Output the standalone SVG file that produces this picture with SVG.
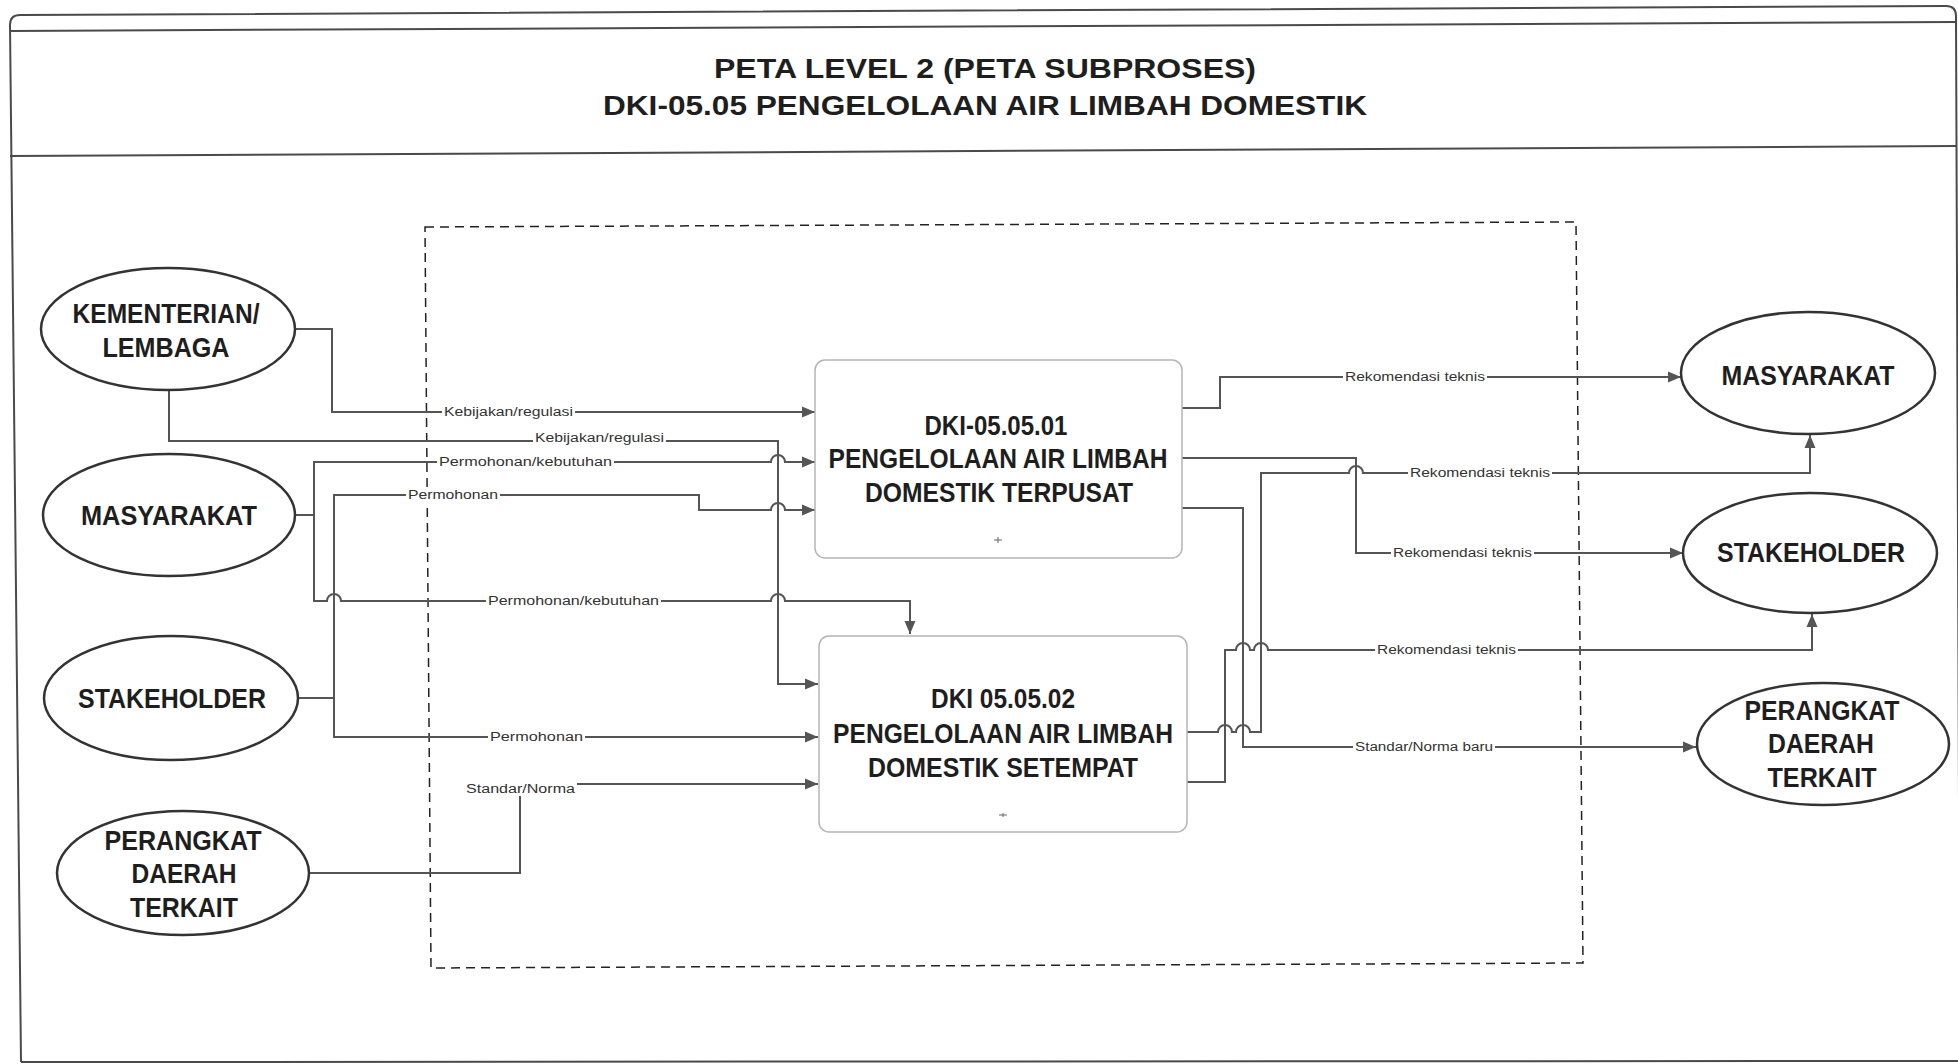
<svg xmlns="http://www.w3.org/2000/svg" width="1958" height="1064" viewBox="0 0 1958 1064">
<style>
.frame{fill:none;stroke:#4a4a4a;stroke-width:2}
.ell{fill:#fff;stroke:#333;stroke-width:2.5}
.box{fill:#fff;stroke:#b5b5b5;stroke-width:1.5}
.et{font-family:"Liberation Sans Narrow","Liberation Sans",Arial,sans-serif;font-weight:bold;font-size:28px;fill:#1e1e1e;text-anchor:middle}
.bt{font-family:"Liberation Sans",Arial,sans-serif;font-weight:bold;font-size:28px;fill:#1e1e1e;text-anchor:middle}
.tt{font-family:"Liberation Sans Narrow","Liberation Sans",Arial,sans-serif;font-weight:bold;font-size:27px;fill:#1e1e1e;text-anchor:middle}
.cn{fill:none;stroke:#555;stroke-width:2}
.lb{font-family:"Liberation Sans",Arial,sans-serif;font-size:12.5px;fill:#333}
.lbg{fill:#fff}
.mk{stroke:#666;stroke-width:1;fill:none}
</style>
<defs>
<marker id="ah" markerUnits="userSpaceOnUse" markerWidth="14" markerHeight="12" refX="13" refY="6" orient="auto">
<path d="M0,0.5 L13,6 L0,11.5 z" fill="#555"/>
</marker>
</defs>
<rect width="1958" height="1064" fill="#fff"/>
<g id="frame">
<path class="frame" d="M21,1062 L10,25 Q10,15 20,15 L1946,6 Q1956,6 1956,16 L1960,1061 L21,1062"/>
<path class="frame" d="M10,31 L1956,22"/>
<path class="frame" d="M10,156 L1956,146"/>
<path fill="none" stroke="#222" stroke-width="1.5" stroke-dasharray="9,6" d="M425,227 L1576,222 L1583,963 L431,968 Z"/>
</g>
<g id="title">
<text class="tt" x="985" y="78" textLength="542" lengthAdjust="spacingAndGlyphs">PETA LEVEL 2 (PETA SUBPROSES)</text>
<text class="tt" x="985" y="115" textLength="764" lengthAdjust="spacingAndGlyphs">DKI-05.05 PENGELOLAAN AIR LIMBAH DOMESTIK</text>
</g>
<g id="connectors">
<path class="cn" marker-end="url(#ah)" d="M295,329 H332 V412 H815"/>
<path class="cn" marker-end="url(#ah)" d="M169,390 V441 H778 V684 H818"/>
<path class="cn" marker-end="url(#ah)" d="M295,515 H314 V462 H771 A7,7 0 0 1 785,462 H815"/>
<path class="cn" marker-end="url(#ah)" d="M314,515 V601 H327 A7,7 0 0 1 341,601 H771 A7,7 0 0 1 785,601 H910 V634"/>
<path class="cn" marker-end="url(#ah)" d="M298,698 H334 V495 H699 V510 H771 A7,7 0 0 1 785,510 H815"/>
<path class="cn" marker-end="url(#ah)" d="M334,698 V737 H818"/>
<path class="cn" marker-end="url(#ah)" d="M309,873 H520 V784 H818"/>
<path class="cn" marker-end="url(#ah)" d="M1182,408 H1220 V377 H1681"/>
<path class="cn" marker-end="url(#ah)" d="M1182,458 H1356 V553 H1683"/>
<path class="cn" marker-end="url(#ah)" d="M1187,732 H1218 A7,7 0 0 1 1232,732 H1236 A7,7 0 0 1 1250,732 H1261 V473 H1349 A7,7 0 0 1 1363,473 H1810 V435"/>
<path class="cn" marker-end="url(#ah)" d="M1187,782 H1225 V650 H1236 A7,7 0 0 1 1250,650 H1254 A7,7 0 0 1 1268,650 H1812 V614"/>
<path class="cn" marker-end="url(#ah)" d="M1182,508 H1243 V747 H1696"/>
<g id="labels">
<rect class="lbg" x="442" y="405" width="133" height="14"/><text class="lb" x="444" y="416" textLength="129" lengthAdjust="spacingAndGlyphs">Kebijakan/regulasi</text>
<rect class="lbg" x="533" y="431" width="133" height="14"/><text class="lb" x="535" y="442" textLength="129" lengthAdjust="spacingAndGlyphs">Kebijakan/regulasi</text>
<rect class="lbg" x="437" y="455" width="177" height="14"/><text class="lb" x="439" y="466" textLength="173" lengthAdjust="spacingAndGlyphs">Permohonan/kebutuhan</text>
<rect class="lbg" x="406" y="488" width="94" height="14"/><text class="lb" x="408" y="499" textLength="90" lengthAdjust="spacingAndGlyphs">Permohonan</text>
<rect class="lbg" x="486" y="594" width="175" height="14"/><text class="lb" x="488" y="605" textLength="171" lengthAdjust="spacingAndGlyphs">Permohonan/kebutuhan</text>
<rect class="lbg" x="488" y="730" width="97" height="14"/><text class="lb" x="490" y="741" textLength="93" lengthAdjust="spacingAndGlyphs">Permohonan</text>
<rect class="lbg" x="464" y="780" width="113" height="16"/><text class="lb" x="466" y="793" textLength="109" lengthAdjust="spacingAndGlyphs">Standar/Norma</text>
<rect class="lbg" x="1343" y="370" width="144" height="14"/><text class="lb" x="1345" y="381" textLength="140" lengthAdjust="spacingAndGlyphs">Rekomendasi teknis</text>
<rect class="lbg" x="1408" y="466" width="144" height="14"/><text class="lb" x="1410" y="477" textLength="140" lengthAdjust="spacingAndGlyphs">Rekomendasi teknis</text>
<rect class="lbg" x="1391" y="546" width="143" height="14"/><text class="lb" x="1393" y="557" textLength="139" lengthAdjust="spacingAndGlyphs">Rekomendasi teknis</text>
<rect class="lbg" x="1375" y="643" width="143" height="14"/><text class="lb" x="1377" y="654" textLength="139" lengthAdjust="spacingAndGlyphs">Rekomendasi teknis</text>
<rect class="lbg" x="1353" y="740" width="142" height="14"/><text class="lb" x="1355" y="751" textLength="138" lengthAdjust="spacingAndGlyphs">Standar/Norma baru</text>
</g>
</g>
<g id="kementerian">
<ellipse class="ell" cx="168" cy="329" rx="127" ry="61"/>
<text class="et" x="166" y="323" textLength="187" lengthAdjust="spacingAndGlyphs">KEMENTERIAN/</text>
<text class="et" x="166" y="357" textLength="127" lengthAdjust="spacingAndGlyphs">LEMBAGA</text>
</g>
<g id="masyarakat-in">
<ellipse class="ell" cx="169" cy="515" rx="126" ry="61"/>
<text class="et" x="169" y="525" textLength="176" lengthAdjust="spacingAndGlyphs">MASYARAKAT</text>
</g>
<g id="stakeholder-in">
<ellipse class="ell" cx="171" cy="698" rx="127" ry="62"/>
<text class="et" x="172" y="708" textLength="188" lengthAdjust="spacingAndGlyphs">STAKEHOLDER</text>
</g>
<g id="perangkat-in">
<ellipse class="ell" cx="183" cy="873" rx="126" ry="62"/>
<text class="et" x="183" y="850" textLength="157" lengthAdjust="spacingAndGlyphs">PERANGKAT</text>
<text class="et" x="184" y="883" textLength="105" lengthAdjust="spacingAndGlyphs">DAERAH</text>
<text class="et" x="184" y="917" textLength="108" lengthAdjust="spacingAndGlyphs">TERKAIT</text>
</g>
<g id="box1">
<rect class="box" x="815" y="360" width="367" height="198" rx="10"/>
<text class="bt" x="996" y="435" textLength="143" lengthAdjust="spacingAndGlyphs">DKI-05.05.01</text>
<text class="bt" x="998" y="468" textLength="339" lengthAdjust="spacingAndGlyphs">PENGELOLAAN AIR LIMBAH</text>
<text class="bt" x="999" y="502" textLength="268" lengthAdjust="spacingAndGlyphs">DOMESTIK TERPUSAT</text>
<path class="mk" d="M994,540 H1002 M998,537 V543"/>
</g>
<g id="box2">
<rect class="box" x="819" y="636" width="368" height="196" rx="10"/>
<text class="bt" x="1003" y="708" textLength="144" lengthAdjust="spacingAndGlyphs">DKI 05.05.02</text>
<text class="bt" x="1003" y="743" textLength="340" lengthAdjust="spacingAndGlyphs">PENGELOLAAN AIR LIMBAH</text>
<text class="bt" x="1003" y="777" textLength="270" lengthAdjust="spacingAndGlyphs">DOMESTIK SETEMPAT</text>
<path class="mk" d="M999,815 H1007 M1003,813 V817"/>
</g>
<g id="masyarakat-out">
<ellipse class="ell" cx="1808" cy="373" rx="127" ry="61"/>
<text class="et" x="1808" y="385" textLength="173" lengthAdjust="spacingAndGlyphs">MASYARAKAT</text>
</g>
<g id="stakeholder-out">
<ellipse class="ell" cx="1810" cy="553" rx="127" ry="60"/>
<text class="et" x="1811" y="562" textLength="188" lengthAdjust="spacingAndGlyphs">STAKEHOLDER</text>
</g>
<g id="perangkat-out">
<ellipse class="ell" cx="1823" cy="744" rx="126" ry="61"/>
<text class="et" x="1822" y="720" textLength="155" lengthAdjust="spacingAndGlyphs">PERANGKAT</text>
<text class="et" x="1821" y="753" textLength="106" lengthAdjust="spacingAndGlyphs">DAERAH</text>
<text class="et" x="1822" y="787" textLength="109" lengthAdjust="spacingAndGlyphs">TERKAIT</text>
</g>
</svg>
